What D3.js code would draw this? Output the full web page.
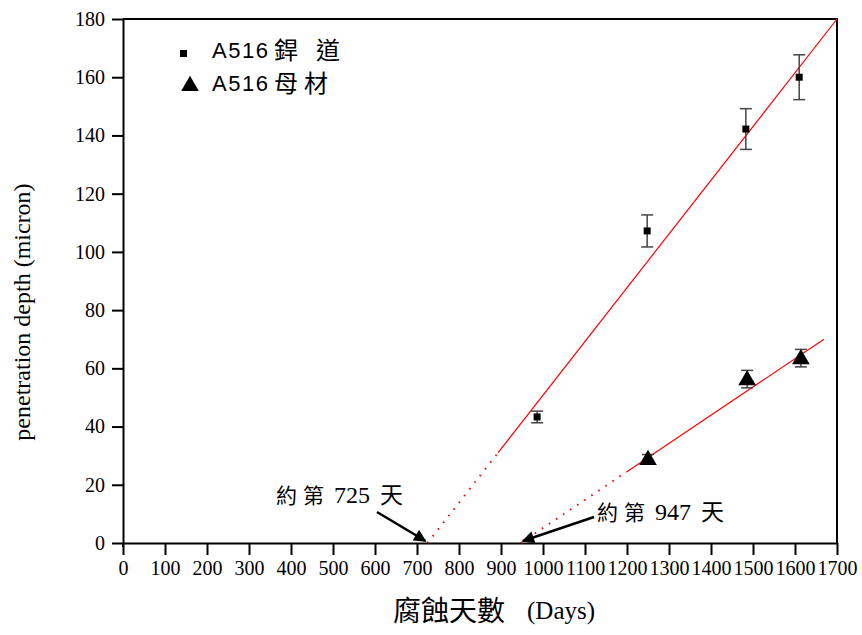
<!DOCTYPE html>
<html>
<head>
<meta charset="utf-8">
<script src="https://cdn.jsdelivr.net/npm/d3@7"></script>
<style>
  body { margin: 0; background: #fff; }
  svg { display: block; }
</style>
</head>
<body>
<div class="chart"></div>
<script>
// weld seam (銲道) samples
const weldDays = [986, 1248, 1483, 1610];
const weldDepth = [43.3, 107.2, 142.2, 160];
const weldErr = [2, 5.5, 7, 7.7];

// base metal (母材) samples
const baseDays = [1250, 1486, 1614];
const baseDepth = [28.9, 56.3, 63.5];
const baseErr = [1.5, 3, 3];

// fitted lines: dotted from the x-intercept, then solid
const fitStart = [725, 947];
const fitSolidFrom = [893, 1198];
const fitEnd = [1700, 1669];
const fitEndDepth = [180, 70];

const xTicks = d3.range(0, 1701, 100);
const yTicks = d3.range(0, 181, 20);

const width = 862, height = 635;
const margin = {left: 123, right: 25, top: 19, bottom: 92};

const svg = d3.select('.chart').append('svg')
  .attr('width', width)
  .attr('height', height);

const x = d3.scaleLinear().domain([0, 1700]).range([margin.left, width - margin.right]);
const y = d3.scaleLinear().domain([0, 180]).range([height - margin.bottom, margin.top]);

const serif = '"Liberation Serif", "Times New Roman", serif';
const cjk = '"Noto Sans CJK TC", "Noto Sans CJK SC", sans-serif';

// frame top + right
svg.append('path')
  .attr('d', `M${x(0)},${y(180)}H${x(1700)}V${y(0)}`)
  .attr('fill', 'none')
  .attr('stroke', 'black')
  .attr('stroke-width', 2);

// axes
const xAxis = svg.append('g')
  .attr('transform', `translate(0,${y(0)})`)
  .call(d3.axisBottom(x).tickValues(xTicks).tickSize(12).tickSizeOuter(0).tickPadding(6).tickFormat(d3.format('d')));
const yAxis = svg.append('g')
  .attr('transform', `translate(${x(0)},0)`)
  .call(d3.axisLeft(y).tickValues(yTicks).tickSize(11).tickSizeOuter(0).tickPadding(7));

[xAxis, yAxis].forEach(a => {
  a.select('.domain').attr('stroke-width', 2);
  a.selectAll('.tick line').attr('stroke-width', 2);
  a.selectAll('.tick text')
    .attr('font-family', serif)
    .attr('font-size', '20px')
    .attr('fill', 'black');
});
// little overshoot of the y axis below the origin
svg.append('line')
  .attr('x1', x(0)).attr('x2', x(0))
  .attr('y1', y(0)).attr('y2', y(0) + 4)
  .attr('stroke', 'black').attr('stroke-width', 2);

// fit lines
const fits = fitStart.map((s, i) => ({s: s, m: fitSolidFrom[i], e: fitEnd[i], ed: fitEndDepth[i]}));
fits.forEach(f => {
  const slope = f.ed / (f.e - f.s);
  const ym = slope * (f.m - f.s);
  svg.append('line')
    .attr('x1', x(f.s)).attr('y1', y(0))
    .attr('x2', x(f.m)).attr('y2', y(ym))
    .attr('stroke', 'red')
    .attr('stroke-width', 2)
    .attr('stroke-dasharray', '1.5,7');
  svg.append('line')
    .attr('x1', x(f.m)).attr('y1', y(ym))
    .attr('x2', x(f.e)).attr('y2', y(f.ed))
    .attr('stroke', 'red')
    .attr('stroke-width', 1.2);
});

// error bars
function errorBars(days, depth, err) {
  const g = svg.append('g').attr('stroke', '#444').attr('stroke-width', 1.5);
  days.forEach((d, i) => {
    const cx = x(d);
    g.append('line').attr('x1', cx).attr('x2', cx).attr('y1', y(depth[i] - err[i])).attr('y2', y(depth[i] + err[i]));
    g.append('line').attr('x1', cx - 6).attr('x2', cx + 6).attr('y1', y(depth[i] + err[i])).attr('y2', y(depth[i] + err[i]));
    g.append('line').attr('x1', cx - 6).attr('x2', cx + 6).attr('y1', y(depth[i] - err[i])).attr('y2', y(depth[i] - err[i]));
  });
}
errorBars(weldDays, weldDepth, weldErr);
errorBars(baseDays, baseDepth, baseErr);

// markers
svg.selectAll('rect.weld')
  .data(weldDays)
  .enter()
  .append('rect')
  .attr('class', 'weld')
  .attr('x', d => x(d) - 3.5)
  .attr('y', (d, i) => y(weldDepth[i]) - 3.5)
  .attr('width', 7)
  .attr('height', 7)
  .attr('fill', 'black');

const tri = d3.symbol().type(d3.symbolTriangle).size(135);
svg.selectAll('path.base')
  .data(baseDays)
  .enter()
  .append('path')
  .attr('class', 'base')
  .attr('d', tri)
  .attr('transform', (d, i) => `translate(${x(d)},${y(baseDepth[i]) + 1})`)
  .attr('fill', 'black');

// legend
const legend = svg.append('g');
legend.append('rect').attr('x', 180).attr('y', 50).attr('width', 7).attr('height', 7).attr('fill', 'black');
legend.append('path').attr('d', tri).attr('transform', 'translate(190,86)').attr('fill', 'black');
[['銲', '道', 58, 42], ['母', '材', 91, 30]].forEach(r => {
  legend.append('text').attr('x', 212).attr('y', r[2])
    .attr('font-family', '"Liberation Sans", Arial, sans-serif').attr('font-size', '22px')
    .attr('letter-spacing', '1.5px').attr('fill', 'black').text('A516');
  legend.append('text').attr('x', 274).attr('y', r[2] + 1)
    .attr('font-family', cjk).attr('font-size', '24px').attr('fill', 'black').text(r[0]);
  legend.append('text').attr('x', 274 + r[3]).attr('y', r[2] + 1)
    .attr('font-family', cjk).attr('font-size', '24px').attr('fill', 'black').text(r[1]);
});

// annotations
svg.append('defs').append('marker')
  .attr('id', 'arrow')
  .attr('viewBox', '0 0 10 10')
  .attr('refX', 9).attr('refY', 5)
  .attr('markerWidth', 6).attr('markerHeight', 5)
  .attr('orient', 'auto')
  .append('path').attr('d', 'M0,0L10,5L0,10z').attr('fill', 'black');

function note(num, tx, ty, ax, ay, day) {
  const g = svg.append('g').attr('fill', 'black');
  g.append('text').attr('x', tx).attr('y', ty).attr('font-family', cjk).attr('font-size', '21px').text('約');
  g.append('text').attr('x', tx + 27).attr('y', ty).attr('font-family', cjk).attr('font-size', '21px').text('第');
  g.append('text').attr('x', tx + 58).attr('y', ty).attr('font-family', serif).attr('font-size', '24px').text(num);
  g.append('text').attr('x', tx + 104).attr('y', ty).attr('font-family', cjk).attr('font-size', '23px').text('天');
  svg.append('line')
    .attr('x1', ax).attr('y1', ay)
    .attr('x2', x(day) - (day < 800 ? 2 : -2)).attr('y2', y(0) - 2)
    .attr('stroke', 'black').attr('stroke-width', 2.5)
    .attr('marker-end', 'url(#arrow)');
}
note('725', 276, 503, 377, 512, fitStart[0]);
note('947', 597, 520, 594, 517, fitStart[1]);

// axis titles
svg.append('text').attr('x', 393).attr('y', 621)
  .attr('font-family', cjk).attr('font-size', '28px').attr('fill', 'black')
  .text('腐蝕天數');
svg.append('text').attr('x', 527).attr('y', 619)
  .attr('font-family', serif).attr('font-size', '25px').attr('fill', 'black')
  .text('(Days)');

svg.append('text')
  .attr('transform', 'translate(30,312) rotate(-90)')
  .attr('text-anchor', 'middle')
  .attr('font-family', serif)
  .attr('font-size', '24px')
  .attr('fill', 'black')
  .text('penetration depth (micron)');
</script>
</body>
</html>
